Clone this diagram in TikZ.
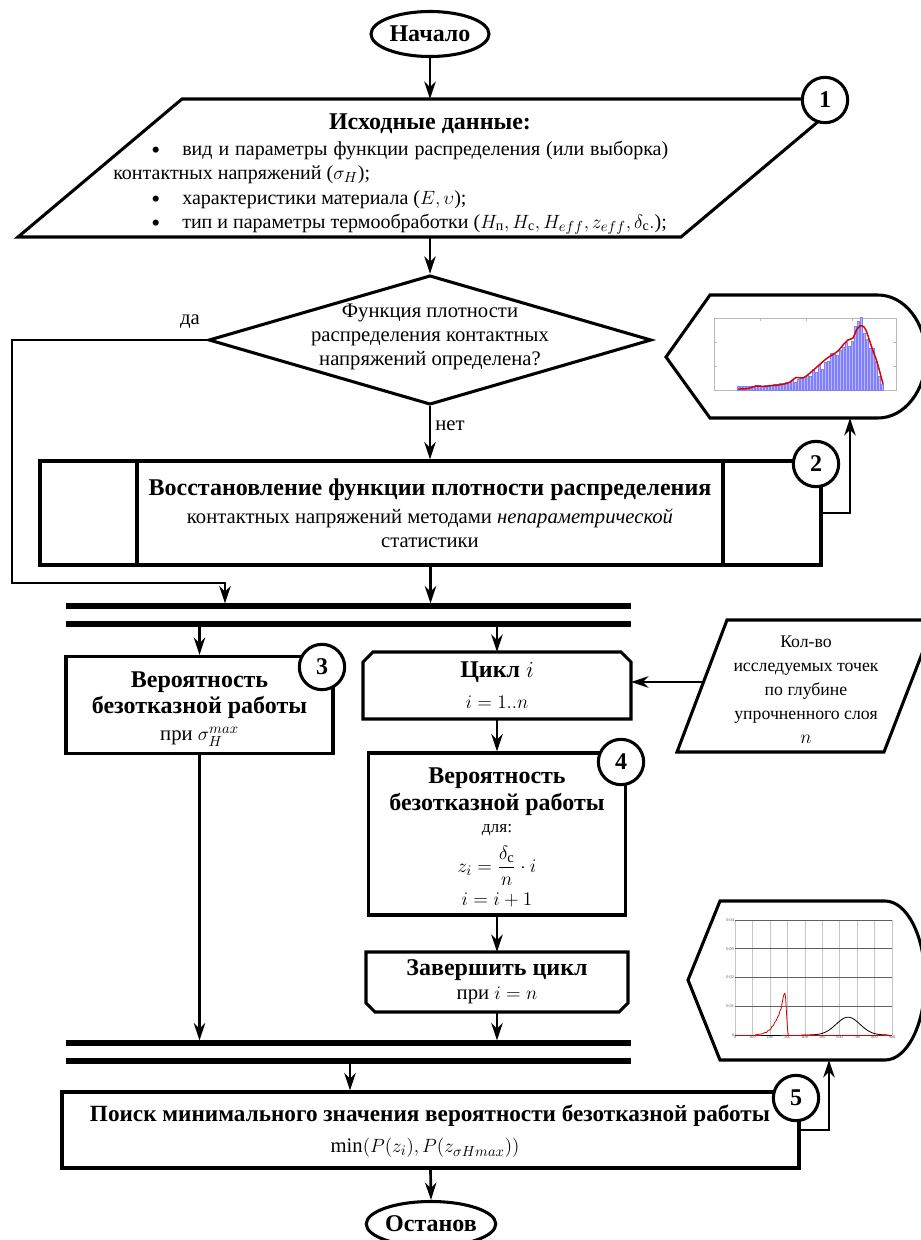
\documentclass[tikz,border=0pt]{standalone}
\usepackage{amsmath}
\usepackage{fontspec}
\setmainfont{Liberation Serif}
\usetikzlibrary{arrows.meta,shapes.geometric,calc}
\newcommand\hdf{\fontsize{18}{20}\selectfont\bfseries}
\newcommand\hdsf{\fontsize{17.4}{20}\selectfont\bfseries}
\newcommand\bdf{\fontsize{15}{18}\selectfont\mdseries}
\newcommand\bdlf{\fontsize{15.5}{18}\selectfont\mdseries}
\newcommand\inpf{\fontsize{13.3}{18}\selectfont\mdseries}
\newcommand\smf{\fontsize{13}{15}\selectfont\mdseries}
\newcommand\tkf{\fontsize{3.2}{3.6}\selectfont}
\newcommand\mybul{\makebox[23.25pt][l]{\raisebox{-2.6pt}{\fontsize{19}{19}\selectfont •}}}
\begin{document}
\begin{tikzpicture}[x=0.75pt,y=-0.75pt,
  outl/.style={line width=2.3pt,line join=miter},
  conn/.style={line width=2pt,-{Stealth[length=13pt,width=8.5pt,inset=4pt]}},
  barline/.style={line width=3.8pt},
  numc/.style={circle,draw,line width=2.3pt,fill=white,minimum size=34pt,inner sep=0pt,font=\hdf},
  term/.style={ellipse,draw,line width=2.3pt,minimum width=88.5pt,minimum height=33.75pt,inner sep=0pt,font=\hdf},
  boxn/.style={draw,line width=2.3pt,inner sep=0pt},
  txt/.style={inner sep=0pt,align=center},
]
\useasboundingbox (0,0) rectangle (921,1240);

% ---------- terminals
\node[term] (start) at (430,34) {Начало};
\node[term] (stop) at (431,1224) {Останов};

% ---------- input data parallelogram
\draw[outl] (182,99) -- (845,99) -- (681,237) -- (18,237) -- cycle;
\coordinate (inp-n) at (430,99);
\coordinate (inp-s) at (430,237);
\node[txt,font=\hdf] (inp-h) at (430,124) {Исходные данные:};
\node[txt,font=\bdf,anchor=base west] (l1) at (151,155) {\mybul\makebox[364.5pt][s]{вид и параметры функции распределения (или выборка)}};
\node[txt,font=\bdf,anchor=base west] (l2) at (113,179) {контактных напряжений ($\sigma_H$);};
\node[txt,font=\bdf,anchor=base west] (l3) at (151,204) {\mybul характеристики материала ($E, \upsilon$);};
\node[txt,font=\bdf,anchor=base west] (l4) at (151,228) {\mybul тип и параметры термообработки ($H_{\text{п}}, H_{\text{с}}, H_{eff}, z_{eff}, \delta_{\text{с}}.$);};
\node[numc] (n1) at (825,100) {1};
\draw[conn] (start.south) -- (inp-n);

% ---------- decision
\node[diamond,draw,line width=2.3pt,minimum width=332pt,minimum height=97pt,inner sep=0pt] (dia) at (430,340) {};
\node[txt,font=\bdlf] (dia-t) at (430,337) {Функция плотности\\распределения контактных\\напряжений определена?};
\draw[conn] (inp-s) -- (dia.north);
\node[txt,font=\bdlf] (yes) at (190,322) {да};
\node[txt,font=\bdlf] (no) at (450,426) {нет};

% ---------- box 2
\node[boxn,minimum width=585.75pt,minimum height=78pt] (b2) at (430.5,513) {};
\draw[outl] (137,461) -- (137,565) (723,461) -- (723,565);
\node[txt,font=\hdf] (b2-h) at (430,490) {Восстановление функции плотности распределения};
\node[txt,font=\bdlf,text depth=0pt] (b2-t) at (430,528) {\fontsize{15.5}{16.5}\selectfont контактных напряжений методами \textit{непараметрической}\\статистики};
\node[numc] (n2) at (816,464) {2};
\draw[conn] (dia.south) -- (dia.south |- b2.north);

% ---------- display 1 with chart
\draw[outl] (666,357) -- (710,295) -- (878,295) arc[start angle=-90,end angle=90,x radius=48,y radius=61.5] -- (710,418) -- cycle;
\coordinate (d1-s) at (850,418);
\draw[gray!55,line width=0.4pt] (714,318) rectangle (896,390);
\foreach \X in {760,806,852} {\draw[gray!55,line width=0.4pt] (\X,318) -- (\X,321) (\X,390) -- (\X,387);}
\foreach \Y in {342,366} {\draw[gray!55,line width=0.4pt] (714,\Y) -- (717,\Y) (896,\Y) -- (893,\Y);}
\pgfmathsetseed{7}
\foreach \k in {0,...,48}{
  \pgfmathsetmacro\t{\k/48}
  \pgfmathsetmacro\h{(\t<0.83) ? (4+60*pow(max(\t,0.001)/0.83,3.2)) : (5+59*(1-pow(max(\t-0.83,0.001)/0.17,1.6)))}
  \pgfmathsetmacro\hh{max(1,\h*(1+0.2*rand))}
  \pgfmathsetmacro\xx{738+3*\k}
  \filldraw[fill=blue!28,draw=blue!50,line width=0.3pt] (\xx-1.1,390) rectangle (\xx+1.1,390-\hh);
}
\draw[red!85!black,line width=1.1pt] plot[smooth,tension=0.6] coordinates {(738,389)(748,388.5)(756,386)(764,386.5)(772,385.5)(782,384.5)(790,382)(796,377.5)(803,378)(810,373)(818,366)(826,359)(832,355)(838,351)(843,345)(848,340)(853,338)(856,331)(860,326)(864,327)(867,333)(872,348)(877,362)(883,384)};
\draw[conn] (b2.east) -| (d1-s);
\coordinate (bar1) at (0,603.5);
\coordinate (yesc) at (12,583);
\coordinate (bar1-yes) at (225,603.5);
\draw[conn] (dia.west) -| (yesc) -| (bar1-yes);
\draw[conn] (b2.south) -- (b2.south |- bar1);

% ---------- bars
\draw[barline] (66,606) -- (631,606);
\draw[barline] (66,624) -- (631,624);
\draw[barline] (66,1043) -- (631,1043);
\draw[barline] (66,1061) -- (631,1061);
\coordinate (bar2) at (0,626.5);
\coordinate (bar3) at (0,1040.5);

% ---------- box 3
\node[boxn,minimum width=200.25pt,minimum height=72.75pt] (b3) at (199.5,705) {};
\node[txt,font=\hdf] (b3-t) at (199.5,709) {Вероятность\\безотказной работы\\{\bdlf при $\sigma_H^{max}$}};
\node[numc] (n3) at (322,667) {3};
\draw[conn] (b3.north |- bar2) -- (b3.north);

% ---------- cycle start
\draw[outl] (363,719) -- (363,662) -- (373,652) -- (621,652) -- (631,662) -- (631,719) -- cycle;
\coordinate (cs-n) at (497,652);
\coordinate (cs-s) at (497,719);
\coordinate (cs-e) at (631,682);
\node[txt,font=\hdf] (cs-t1) at (497,672) {Цикл $i$};
\node[txt,font=\bdlf] (cs-t2) at (497,702) {$i = 1..n$};
\draw[conn] (cs-n |- bar2) -- (cs-n);

% ---------- input 2
\draw[outl] (727,620) -- (935,620) -- (884,752) -- (677,752) -- cycle;
\coordinate (in2-w) at (703,682);
\node[txt,font=\inpf] (in2-t) at (806,690) {Кол-во\\исследуемых точек\\по глубине\\упрочненного слоя\\$n$};
\draw[conn] (in2-w) -- (cs-e);

% ---------- box 4
\node[boxn,minimum width=192.75pt,minimum height=121.5pt] (b4) at (497,834) {};
\draw[conn] (cs-s) -- (b4.north);
\node[txt,font=\hdf] (b4-t) at (497,792) {Вероятность\\безотказной работы};
\node[txt,font=\smf] (b4-d) at (497,830) {для:};
\node[txt,font=\bdlf] (b4-f) at (497,866) {$z_i=\dfrac{\delta_{\text{с}}}{n}\cdot i$};
\node[txt,font=\bdlf] (b4-g) at (497,900) {$i=i+1$};
\node[numc] (n4) at (621,762) {4};

% ---------- cycle end
\draw[outl] (366,952) -- (628,952) -- (628,1003) -- (619,1012) -- (375,1012) -- (366,1003) -- cycle;
\coordinate (ce-n) at (497,952);
\coordinate (ce-s) at (497,1012);
\draw[conn] (b4.south) -- (ce-n);
\node[txt,font=\hdf] (ce-t1) at (497,970) {Завершить цикл};
\node[txt,font=\bdlf] (ce-t2) at (497,995) {при $i = n$};
\draw[conn] (ce-s) -- (ce-s |- bar3);
\draw[conn] (b3.south) -- (b3.south |- bar3);

% ---------- display 2 with chart
\draw[outl] (688,980) -- (720,901) -- (885,901) arc[start angle=-90,end angle=90,x radius=40,y radius=79.5] -- (720,1060) -- cycle;
\coordinate (d2-s) at (829,1060);
\begin{scope}[shift={(735,1035)},xscale=0.174444,yscale=-28.75]
  \foreach \X in {0,100,...,900} {\draw[gray!45,line width=0.3pt] (\X,0) -- (\X,4);
    \node[font=\tkf,inner sep=0.6pt,below,gray!60!black] at (\X,0) {\X};}
  \foreach \Y/\L in {0/0,1/0.01,2/0.02,3/0.03,4/0.04} {\draw[gray!75!black,line width=0.4pt] (0,\Y) -- (900,\Y);
    \node[font=\tkf,inner sep=0.6pt,left,gray!60!black] at (0,\Y) {\L};}
  \draw[black,line width=0.6pt] plot[domain=380:880,samples=60,smooth] (\x,{0.62*exp(-0.5*((\x-648)/68)^2)});
  \draw[black,line width=0.6pt] (150,0) -- (262,0);
  \draw[red!85!black,line width=0.6pt] (0,0) -- (150,0) (262,0) -- (900,0);
  \draw[red!85!black,line width=0.6pt] plot coordinates {(115,0)(130,0.02)(145,0.03)(160,0.05)(172,0.09)(180,0.08)(188,0.15)(196,0.17)(204,0.2)(212,0.3)(220,0.33)(228,0.45)(236,0.5)(244,0.62)(252,0.7)(258,0.85)(264,0.9)(270,1.1)(276,1.3)(281,1.42)(286,1.45)(290,1.3)(294,0.9)(298,0.5)(302,0.15)(306,0)};
\end{scope}

% ---------- box 5
\node[boxn,minimum width=552.75pt,minimum height=57pt] (b5) at (430.5,1130) {};
\coordinate (bar4-a) at (350,1063.5);
\draw[conn] (bar4-a) -- (bar4-a |- b5.north);
\node[txt,font=\hdsf,text depth=0pt] (b5-h) at (430,1113) {Поиск минимального значения вероятности безотказной работы};
\node[txt,font=\bdlf] (b5-f) at (425,1148) {$\min(P(z_i),P(z_{\sigma Hmax}))$};
\node[numc] (n5) at (796,1098) {5};
\draw[conn] (b5.east) -| (d2-s);
\draw[conn] (b5.south) -- (stop.north);
\end{tikzpicture}
\end{document}
